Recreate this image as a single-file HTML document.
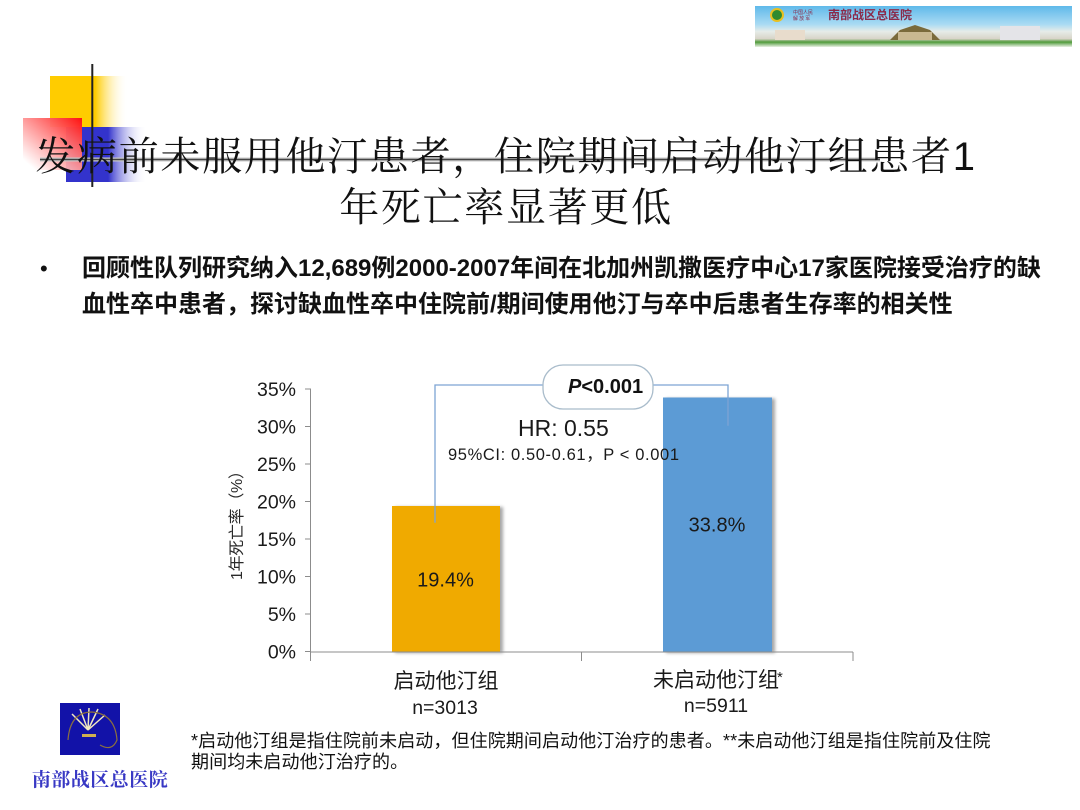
<!DOCTYPE html>
<html>
<head>
<meta charset="utf-8">
<style>
  html,body{margin:0;padding:0;background:#fff;}
  body{width:1080px;height:810px;position:relative;overflow:hidden;}
  .abs{position:absolute;}
  .title{position:absolute;left:35px;width:942px;text-align:center;
    font-family:"Liberation Sans","Noto Serif CJK SC",serif;font-size:40px;color:#111;
    line-height:50px;white-space:nowrap;font-weight:normal;letter-spacing:1.7px;}
  .bullet-text{position:absolute;left:82px;top:251px;width:990px;
    font-family:"Liberation Sans","Noto Sans CJK SC",sans-serif;font-weight:bold;font-size:24px;
    line-height:36px;color:#111;white-space:nowrap;}
  .foot{position:absolute;left:191px;top:731px;
    font-family:"Liberation Sans","Noto Sans CJK SC",sans-serif;font-size:18px;line-height:21px;color:#111;white-space:nowrap;letter-spacing:0.1px;}
  .logo-text{position:absolute;left:29px;top:766px;width:142px;text-align:center;
    font-family:"Noto Serif CJK SC","Liberation Serif",serif;font-weight:bold;font-size:19px;color:#3838c4;letter-spacing:0.5px;white-space:nowrap;line-height:26px;}
</style>
</head>
<body>
<svg class="abs" style="left:0;top:0" width="1080" height="810" viewBox="0 0 1080 810">
  <defs>
    <linearGradient id="gy" x1="0" y1="0" x2="1" y2="0">
      <stop offset="0" stop-color="#FFCC00"/>
      <stop offset="0.58" stop-color="#FFCC00"/>
      <stop offset="1" stop-color="#FFFFFF" stop-opacity="0"/>
    </linearGradient>
    <linearGradient id="gb" x1="0" y1="0" x2="1" y2="0">
      <stop offset="0" stop-color="#3333CC"/>
      <stop offset="0.52" stop-color="#3333CC"/>
      <stop offset="1" stop-color="#FFFFFF" stop-opacity="0"/>
    </linearGradient>
    <linearGradient id="gr" x1="1" y1="0" x2="0" y2="1">
      <stop offset="0" stop-color="#FF1010"/>
      <stop offset="0.9" stop-color="#FFFFFF" stop-opacity="0.9"/>
      <stop offset="1" stop-color="#FFFFFF" stop-opacity="0.6"/>
    </linearGradient>
    <linearGradient id="sky" x1="0" y1="0" x2="0" y2="1">
      <stop offset="0" stop-color="#5fb9ea"/>
      <stop offset="0.45" stop-color="#aadbf3"/>
      <stop offset="0.62" stop-color="#e6ece8"/>
      <stop offset="0.8" stop-color="#d8d4c8"/>
      <stop offset="0.88" stop-color="#4f9a3a"/>
      <stop offset="1" stop-color="#e9f1e4"/>
    </linearGradient>
    <filter id="sh" x="-10%" y="-10%" width="130%" height="130%">
      <feDropShadow dx="3" dy="1" stdDeviation="1.5" flood-color="#000" flood-opacity="0.35"/>
    </filter>
  </defs>

  <!-- decoration -->
  <rect x="50" y="76" width="78" height="51" fill="url(#gy)"/>
  <rect x="66" y="127" width="81" height="55" fill="url(#gb)"/>
  <rect x="23" y="118" width="59" height="52" fill="url(#gr)"/>
  <line x1="40" y1="159.5" x2="880" y2="159.5" stroke="#c8c8c8" stroke-width="4"/>
  <line x1="40" y1="159.5" x2="880" y2="159.5" stroke="#444" stroke-width="1.6"/>
  <line x1="92.3" y1="64" x2="92.3" y2="187" stroke="#222" stroke-width="2"/>

  <!-- banner -->
  <rect x="755" y="6" width="317" height="41" fill="url(#sky)"/>
  <rect x="775" y="30" width="30" height="10" fill="#e8dccc"/>
  <rect x="1000" y="26" width="40" height="14" fill="#e4e4e8"/>
  <path d="M890 40 L900 30 L915 25 L930 30 L940 40 Z" fill="#7a6a3a"/>
  <rect x="898" y="32" width="34" height="8" fill="#c9b890"/>
  <circle cx="777" cy="15" r="6" fill="#2f8a2f" stroke="#e8c020" stroke-width="2"/>
  <text x="828" y="19" font-family="Noto Sans CJK SC, sans-serif" font-size="12" font-weight="bold" fill="#8a2a4a">南部战区总医院</text>
  <text x="793" y="14" font-family="Noto Sans CJK SC, sans-serif" font-size="5" fill="#8a2a4a">中国人民</text>
  <text x="793" y="20" font-family="Noto Sans CJK SC, sans-serif" font-size="5" fill="#8a2a4a">解 放 军</text>

  <!-- bottom-left logo -->
  <rect x="60" y="703" width="60" height="52" fill="#1212a8"/>
  <g stroke="#f0e8c0" stroke-width="1.5" fill="none">
    <line x1="88" y1="730" x2="72" y2="714"/>
    <line x1="88" y1="730" x2="80" y2="709"/>
    <line x1="88" y1="730" x2="89" y2="708"/>
    <line x1="88" y1="730" x2="98" y2="709"/>
    <line x1="88" y1="730" x2="105" y2="715"/>
  </g>
  <path d="M68 740 Q70 712 92 712 Q115 714 117 740 Q112 752 100 745" stroke="#8a7040" stroke-width="1.2" fill="none"/>
  <rect x="82" y="734" width="14" height="3" fill="#d0b050"/>

  <!-- chart axes -->
  <g stroke="#8c8c8c" stroke-width="1" fill="none">
    <line x1="310.5" y1="389" x2="310.5" y2="661"/>
    <line x1="310.5" y1="652" x2="853" y2="652"/>
    <line x1="581.5" y1="652" x2="581.5" y2="661"/>
    <line x1="853" y1="652" x2="853" y2="661"/>
    <line x1="305" y1="651.5" x2="311" y2="651.5"/>
    <line x1="305" y1="614" x2="311" y2="614"/>
    <line x1="305" y1="576.5" x2="311" y2="576.5"/>
    <line x1="305" y1="539" x2="311" y2="539"/>
    <line x1="305" y1="501.5" x2="311" y2="501.5"/>
    <line x1="305" y1="464" x2="311" y2="464"/>
    <line x1="305" y1="426.5" x2="311" y2="426.5"/>
    <line x1="305" y1="389" x2="311" y2="389"/>
  </g>
  <g font-family="Liberation Sans, sans-serif" font-size="19.5" fill="#1a1a1a" text-anchor="end">
    <text x="296" y="658.5">0%</text>
    <text x="296" y="621">5%</text>
    <text x="296" y="583.5">10%</text>
    <text x="296" y="546">15%</text>
    <text x="296" y="508.5">20%</text>
    <text x="296" y="471">25%</text>
    <text x="296" y="433.5">30%</text>
    <text x="296" y="396">35%</text>
  </g>

  <!-- bars -->
  <rect x="392" y="506" width="108" height="146" fill="#F0AA00" filter="url(#sh)"/>
  <rect x="663" y="397.5" width="109" height="254.5" fill="#5B9BD5" filter="url(#sh)"/>
  <line x1="310.5" y1="652" x2="853" y2="652" stroke="#8c8c8c" stroke-width="1"/>

  <g font-family="Liberation Sans, sans-serif" font-size="20" fill="#1a1a1a" text-anchor="middle">
    <text x="445.5" y="586.7">19.4%</text>
    <text x="717" y="531.7">33.8%</text>
  </g>

  <!-- connector -->
  <path d="M435 522.7 V385 H545" stroke="#7DA4D4" stroke-width="1.3" fill="none"/>
  <path d="M651 385 H728 V425.7" stroke="#7DA4D4" stroke-width="1.3" fill="none"/>
  <rect x="543" y="365" width="110" height="44" rx="20" ry="20" fill="#fff" stroke="#a9bccb" stroke-width="1.3"/>
  <text x="568" y="393" font-family="Liberation Sans, sans-serif" font-size="20" font-weight="bold" fill="#111"><tspan font-style="italic">P</tspan>&lt;0.001</text>

  <text x="518" y="436" font-family="Liberation Sans, sans-serif" font-size="23" fill="#1a1a1a">HR: 0.55</text>
  <text x="448" y="460" font-family="Liberation Sans, Noto Sans CJK SC, sans-serif" font-size="16.5" fill="#1a1a1a" textLength="231" lengthAdjust="spacing">95%CI: 0.50-0.61，P &lt; 0.001</text>

  <!-- y axis title -->
  <text x="0" y="0" transform="translate(242 521.5) rotate(-90)" text-anchor="middle" font-family="Liberation Sans, Noto Sans CJK SC, sans-serif" font-size="16" fill="#2a2a2a" textLength="117" lengthAdjust="spacing">1年死亡率（%）</text>

  <!-- category labels -->
  <g font-family="Liberation Sans, Noto Sans CJK SC, sans-serif" fill="#1a1a1a" text-anchor="middle">
    <text x="446" y="688" font-size="21">启动他汀组</text>
    <text x="445" y="714" font-size="19.5">n=3013</text>
    <text x="716" y="687" font-size="21">未启动他汀组</text>
    <text x="716" y="712" font-size="19.5">n=5911</text>
  </g>
  <text x="777" y="682" font-family="Liberation Sans, sans-serif" font-size="15" fill="#1a1a1a">*</text>

  <!-- bullet -->
  <text x="40" y="276" font-family="Liberation Sans, sans-serif" font-size="22" fill="#111">•</text>
</svg>

<div class="title" style="top:132px;">发病前未服用他汀患者，住院期间启动他汀组患者1</div>
<div class="title" style="top:183px;">年死亡率显著更低</div>

<div class="bullet-text">回顾性队列研究纳入12,689例2000-2007年间在北加州凯撒医疗中心17家医院接受治疗的缺<br>血性卒中患者，探讨缺血性卒中住院前/期间使用他汀与卒中后患者生存率的相关性</div>

<div class="foot">*启动他汀组是指住院前未启动，但住院期间启动他汀治疗的患者。**未启动他汀组是指住院前及住院<br>期间均未启动他汀治疗的。</div>

<div class="logo-text">南部战区总医院</div>
</body>
</html>
